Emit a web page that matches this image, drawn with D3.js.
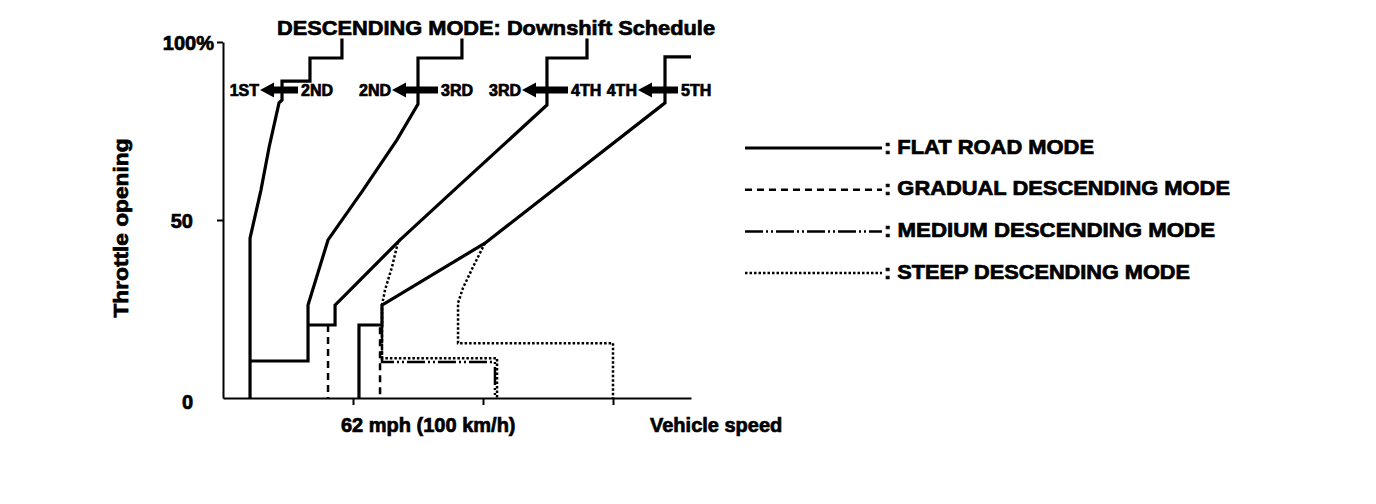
<!DOCTYPE html>
<html>
<head>
<meta charset="utf-8">
<script src="https://cdn.jsdelivr.net/npm/d3@7"></script>
<style>
  body { margin: 0; background: #fff; }
  svg text {
    font-family: "Liberation Sans", Arial, sans-serif;
    font-weight: bold;
    fill: #000;
    stroke: #000;
    stroke-width: 0.7px;
  }
</style>
</head>
<body>
<svg id="chart"></svg>
<script>
// axis ticks
var yTicks = [0, 50, 100];
var yTickLabels = ["0", "50", "100%"];
var xTicks = [100, 200, 300];
var speedLabel = "62 mph (100 km/h)";

// downshift lines: [speed, throttle %]
var flat2to1 = [[20.8, 0], [20.8, 44.9], [29.2, 58.4], [35.5, 70.5], [43.1, 82.9], [45.4, 83.7], [45.4, 89], [66.9, 89], [66.9, 95.5], [91.5, 95.5], [91.5, 101]];
var flat3to2 = [[20.8, 10.4], [65.4, 10.4], [65.4, 26.1], [80.8, 44.4], [107.7, 58.4], [133.8, 72.5], [150, 82.6], [150, 95.5], [183.8, 95.5], [183.8, 101]];
var flat4to3 = [[65.4, 20.5], [86.2, 20.5], [86.2, 26.1], [136.2, 44.4], [176.9, 58.1], [249.2, 82.3], [249.2, 95.5], [280, 95.5], [280, 101]];
var flat5to4 = [[104.6, 0], [104.6, 20.5], [122.3, 20.5], [122.3, 26.1], [201.5, 43.5], [340, 82.9], [340, 95.8], [360, 95.8]];
var gradual4to3 = [[80.8, 20.5], [80.8, 0]];
var gradual5to4 = [[120.8, 19.9], [120.8, 0]];
var medium5to4 = [[122.3, 20.5], [122.3, 10.1], [209.2, 10.1], [209.2, 0]];
var steep4to3 = [[134.6, 43.8], [130, 36.8], [124.6, 30.3], [122.3, 26.1], [122.3, 11.2], [210.8, 11.2], [210.8, 0]];
var steep5to4 = [[201.5, 43.5], [192.3, 36.8], [184.6, 30.9], [180.8, 26.7], [180.8, 15.4], [300, 15.4], [300, 0]];

// shift arrows
var lowerGears = ["1ST", "2ND", "3RD", "4TH"];
var upperGears = ["2ND", "3RD", "4TH", "5TH"];
var arrowTips = [28.5, 130, 230, 319.2];
var arrowTails = [57.7, 165.4, 265.4, 350];
var arrowLevel = 86.5;

// legend
var modes = ["FLAT ROAD MODE", "GRADUAL DESCENDING MODE", "MEDIUM DESCENDING MODE", "STEEP DESCENDING MODE"];

var width = 1376;
var height = 504;

var modeStyles = [
  { dash: null, w: 3.2, lw: 210 },
  { dash: "7,5", w: 2.5, lw: 346 },
  { dash: "18,3,2,3,2,3", w: 2.5, lw: 331 },
  { dash: "2.5,2", w: 2.5, lw: 306 }
];

var svg =
  d3.select("#chart")
      .attr("width", width)
      .attr("height", height);

// scales
var xScale =
  d3.scaleLinear()
    .domain([0, 360])
    .range([223, 691]);

var yScale =
  d3.scaleLinear()
    .domain([0, 100])
    .range([398, 42]);

var line =
  d3.line()
    .x(d => xScale(d[0]))
    .y(d => yScale(d[1]));

// axes
var yAxis =
  svg.append("g")
      .classed("y-axis", true)
      .attr("transform", `translate(${xScale(0)}, 0)`)
      .call(
        d3.axisLeft(yScale)
          .tickValues(yTicks)
          .tickFormat((d, i) => yTickLabels[i])
          .tickSize(6)
          .tickSizeOuter(0)
      );

yAxis.selectAll("path, line").attr("stroke", "#000").attr("stroke-width", 2);
yAxis.selectAll(".tick").filter(d => d === 0).select("line").remove();
yAxis.selectAll("text")
    .style("font-size", "20px")
    .attr("x", d => d === 100 ? -9 : -30)
    .attr("dy", d => d === 0 ? "0.5em" : "0.36em");

var xAxis =
  svg.append("g")
      .classed("x-axis", true)
      .attr("transform", `translate(0, ${yScale(0)})`)
      .call(
        d3.axisBottom(xScale)
          .tickValues(xTicks)
          .tickFormat("")
          .tickSize(7)
          .tickSizeOuter(0)
      );

xAxis.selectAll("path, line").attr("stroke", "#000").attr("stroke-width", 2);

// axis labels
svg.append("text")
    .text(speedLabel)
    .attr("x", xScale(xTicks[0]) - 12)
    .attr("y", 432)
    .style("font-size", "20px");

svg.append("text")
    .text("Vehicle speed")
    .attr("x", 650)
    .attr("y", 432)
    .style("font-size", "20px");

svg.append("text")
    .text("Throttle opening")
    .attr("transform", "translate(128, 228) rotate(-90)")
    .attr("text-anchor", "middle")
    .attr("textLength", 179)
    .attr("lengthAdjust", "spacingAndGlyphs")
    .style("font-size", "20px");

// title
svg.append("text")
    .text("DESCENDING MODE: Downshift Schedule")
    .attr("x", 277)
    .attr("y", 35)
    .attr("textLength", 438)
    .attr("lengthAdjust", "spacingAndGlyphs")
    .style("font-size", "21px");

// schedule lines, descending modes under flat road
var groups = [
  { mode: 1, lines: [gradual4to3, gradual5to4] },
  { mode: 2, lines: [medium5to4] },
  { mode: 3, lines: [steep4to3, steep5to4] },
  { mode: 0, lines: [flat2to1, flat3to2, flat4to3, flat5to4] }
];

groups.forEach(g => {
  var st = modeStyles[g.mode];
  svg.append("g")
    .selectAll("path")
    .data(g.lines)
    .enter()
    .append("path")
      .attr("d", line)
      .attr("fill", "none")
      .attr("stroke", "#000")
      .attr("stroke-width", st.w)
      .attr("stroke-dasharray", st.dash);
});

// shift arrows
var ay = yScale(arrowLevel);
var arrows = svg.append("g").classed("arrows", true);

arrowTips.forEach((tip, i) => {
  var x0 = xScale(tip);
  var x1 = xScale(arrowTails[i]);
  arrows.append("path")
      .attr("d", `M${x0},${ay} L${x0 + 14},${ay - 7.5} L${x0 + 14},${ay - 3.5} L${x1},${ay - 3.5} L${x1},${ay + 3.5} L${x0 + 14},${ay + 3.5} L${x0 + 14},${ay + 7.5} Z`)
      .attr("fill", "#000");

  arrows.append("text")
      .text(lowerGears[i])
      .attr("x", x0 - 1)
      .attr("y", ay + 6)
      .attr("text-anchor", "end")
      .style("font-size", "16px");

  arrows.append("text")
      .text(upperGears[i])
      .attr("x", x1 + 3)
      .attr("y", ay + 6)
      .style("font-size", "16px");
});

// legend
var legend =
  svg.append("g")
      .classed("legend", true)
      .selectAll("g")
      .data(modes)
      .enter()
      .append("g")
        .attr("transform", (d, i) => `translate(0, ${148 + i * 41.7})`);

legend.append("line")
    .attr("x1", 745)
    .attr("x2", 882)
    .attr("stroke", "#000")
    .attr("stroke-width", (d, i) => modeStyles[i].w)
    .attr("stroke-dasharray", (d, i) => modeStyles[i].dash);

legend.append("text")
    .text(d => ": " + d)
    .attr("x", 884)
    .attr("y", 5.5)
    .attr("textLength", (d, i) => modeStyles[i].lw)
    .attr("lengthAdjust", "spacingAndGlyphs")
    .style("font-size", "20px");
</script>
</body>
</html>
